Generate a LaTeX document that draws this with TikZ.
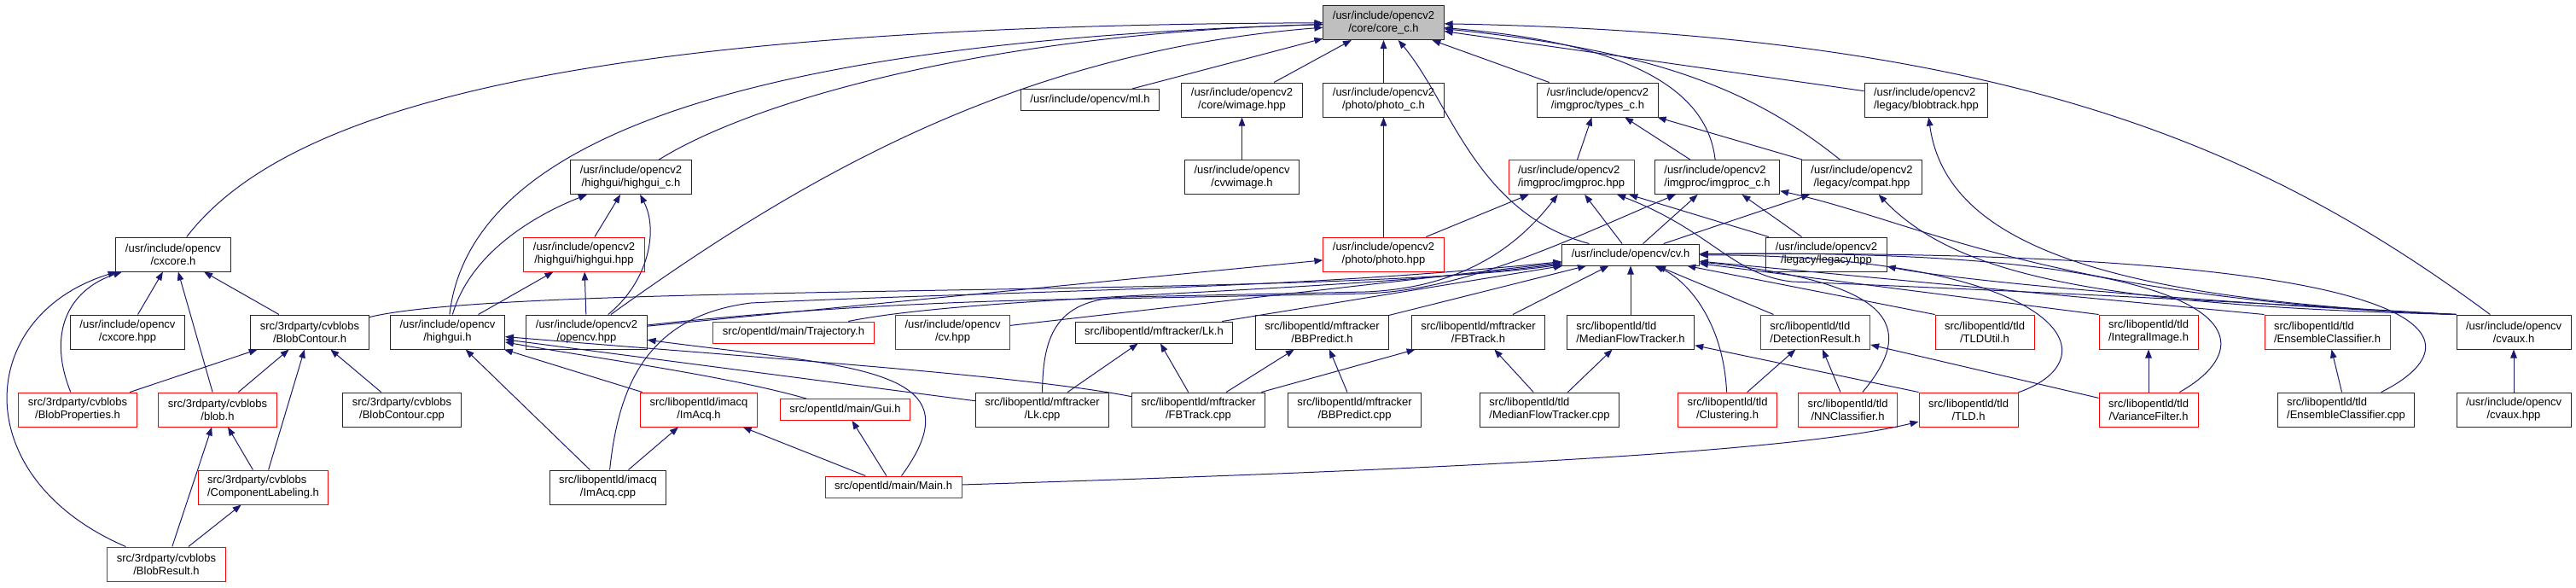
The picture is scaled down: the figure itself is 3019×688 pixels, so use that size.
\documentclass[tikz,border=0pt]{standalone}
\usepackage{fontspec}
\setmainfont{Liberation Sans}
\usetikzlibrary{arrows.meta}
\definecolor{EdgeClr}{rgb}{0.1,0.1,0.44}
\definecolor{TruncClr}{rgb}{1,0,0}
\definecolor{RootClr}{rgb}{0.75,0.75,0.75}
\definecolor{NodeClr}{rgb}{0.15,0.15,0.15}

\begin{document}
\begin{tikzpicture}[x=1pt,y=1pt,
  file/.style={draw=NodeClr,line width=1pt,fill=white,inner xsep=11pt,inner ysep=3pt,
    minimum height=40pt,align=center,font=\fontsize{13}{15}\selectfont},
  one/.style={minimum height=25pt},
  trunc/.style={draw=TruncClr},
  lft/.style={align=left},
  dep/.style={EdgeClr,line width=1pt,-{Triangle[length=10pt,width=7.5pt]}}]
\useasboundingbox (0,0) rectangle (3019,-688);

\node[file,fill=RootClr] (corech) at (1621.5,-26.5) {/usr/include/opencv2\\/core/core\_c.h};

\node[file,one] (mlh) at (1277.5,-117) {/usr/include/opencv/ml.h};
\node[file] (wimage) at (1455.5,-117) {/usr/include/opencv2\\/core/wimage.hpp};
\node[file] (photoch) at (1621.5,-117) {/usr/include/opencv2\\/photo/photo\_c.h};
\node[file] (typesch) at (1872.5,-117) {/usr/include/opencv2\\/imgproc/types\_c.h};
\node[file,lft] (blobtrack) at (2257.5,-117) {/usr/include/opencv2\\/legacy/blobtrack.hpp};

\node[file] (highguich) at (739.5,-207.5) {/usr/include/opencv2\\/highgui/highgui\_c.h};
\node[file] (cvwimage) at (1455.5,-207.5) {/usr/include/opencv\\/cvwimage.h};
\node[file,trunc,lft] (imgproc) at (1841.5,-207.5) {/usr/include/opencv2\\/imgproc/imgproc.hpp};
\node[file,lft] (imgprocch) at (2012.5,-207.5) {/usr/include/opencv2\\/imgproc/imgproc\_c.h};
\node[file] (compat) at (2182,-207.5) {/usr/include/opencv2\\/legacy/compat.hpp};

\node[file] (cxcoreh) at (203,-298) {/usr/include/opencv\\/cxcore.h};
\node[file,trunc] (highguihpp) at (684.5,-298) {/usr/include/opencv2\\/highgui/highgui.hpp};
\node[file,trunc] (photohpp) at (1621.5,-298) {/usr/include/opencv2\\/photo/photo.hpp};
\node[file,one] (cvh) at (1911,-298.5) {/usr/include/opencv/cv.h};
\node[file] (legacy) at (2140.5,-298) {/usr/include/opencv2\\/legacy/legacy.hpp};

\node[file] (cxcorehpp) at (149.5,-389) {/usr/include/opencv\\/cxcore.hpp};
\node[file] (blobcontour) at (363,-389) {src/3rdparty/cvblobs\\/BlobContour.h};
\node[file] (highguih) at (524.5,-389) {/usr/include/opencv\\/highgui.h};
\node[file] (opencvhpp) at (687.5,-389) {/usr/include/opencv2\\/opencv.hpp};
\node[file,one,trunc] (trajectory) at (930,-389.5) {src/opentld/main/Trajectory.h};
\node[file,trunc] (cvhpp) at (1116.5,-389) {/usr/include/opencv\\/cv.hpp};
\node[file,one] (lkh) at (1352.5,-389.5) {src/libopentld/mftracker/Lk.h};
\node[file] (bbpredicth) at (1549.5,-389) {src/libopentld/mftracker\\/BBPredict.h};
\node[file] (fbtrackh) at (1732.5,-389) {src/libopentld/mftracker\\/FBTrack.h};
\node[file,lft] (medianh) at (1911,-389) {src/libopentld/tld\\/MedianFlowTracker.h};
\node[file,trunc,lft] (detectionh) at (2127.5,-389) {src/libopentld/tld\\/DetectionResult.h};
\node[file,trunc] (tldutil) at (2326,-389) {src/libopentld/tld\\/TLDUtil.h};
\node[file,trunc] (integral) at (2518,-389) {src/libopentld/tld\\/IntegralImage.h};
\node[file,trunc,lft] (ensembleh) at (2727.5,-389) {src/libopentld/tld\\/EnsembleClassifier.h};
\node[file] (cvaux) at (2946,-389) {/usr/include/opencv\\/cvaux.h};

\node[file,trunc] (blobprops) at (91,-480) {src/3rdparty/cvblobs\\/BlobProperties.h};
\node[file,trunc] (blobh) at (255,-480) {src/3rdparty/cvblobs\\/blob.h};
\node[file] (blobcontourcpp) at (471,-480) {src/3rdparty/cvblobs\\/BlobContour.cpp};
\node[file,trunc] (imacqh) at (819,-480) {src/libopentld/imacq\\/ImAcq.h};
\node[file,one,trunc] (guih) at (990.5,-480) {src/opentld/main/Gui.h};
\node[file] (lkcpp) at (1221.5,-480) {src/libopentld/mftracker\\/Lk.cpp};
\node[file] (fbtrackcpp) at (1404.5,-480) {src/libopentld/mftracker\\/FBTrack.cpp};
\node[file] (bbpredictcpp) at (1587.5,-480) {src/libopentld/mftracker\\/BBPredict.cpp};
\node[file,lft] (mediancpp) at (1816,-480) {src/libopentld/tld\\/MedianFlowTracker.cpp};
\node[file,trunc] (clustering) at (2024.5,-480) {src/libopentld/tld\\/Clustering.h};
\node[file,trunc] (nnclassifier) at (2165.5,-480) {src/libopentld/tld\\/NNClassifier.h};
\node[file,trunc] (tldh) at (2307,-480) {src/libopentld/tld\\/TLD.h};
\node[file,trunc] (variance) at (2518,-480) {src/libopentld/tld\\/VarianceFilter.h};
\node[file,lft] (ensemblecpp) at (2749.5,-480) {src/libopentld/tld\\/EnsembleClassifier.cpp};
\node[file] (cvauxhpp) at (2946,-480) {/usr/include/opencv\\/cvaux.hpp};

\node[file,trunc,lft] (complabel) at (308.5,-571) {src/3rdparty/cvblobs\\/ComponentLabeling.h};
\node[file] (imacqcpp) at (712.5,-571) {src/libopentld/imacq\\/ImAcq.cpp};
\node[file,one,trunc] (mainh) at (1047,-570.5) {src/opentld/main/Main.h};

\node[file,trunc] (blobresult) at (195,-661) {src/3rdparty/cvblobs\\/BlobResult.h};

\draw[dep] (cxcoreh) .. controls (340,-120) and (700,-30) .. (corech);
\draw[dep] (highguih) .. controls (550,-170) and (850,-50) .. (corech);
\draw[dep] (highguich) .. controls (880,-120) and (1150,-40) .. (corech);
\draw[dep] (opencvhpp) .. controls (950,-200) and (1200,-60) .. (corech);
\draw[dep] (mlh) -- (corech);
\draw[dep] (wimage) -- (corech);
\draw[dep] (photoch) -- (corech);
\draw[dep] (cvh) .. controls (1730,-250) and (1700,-120) .. (corech);
\draw[dep] (typesch) -- (corech);
\draw[dep] (imgprocch) .. controls (2000,-100) and (1900,-50) .. (corech);
\draw[dep] (compat) .. controls (2060,-110) and (1950,-60) .. (corech);
\draw[dep] (blobtrack) -- (corech);
\draw[dep] (cvaux) .. controls (2650,-170) and (2350,-40) .. (corech);

\draw[dep] (cvwimage) -- (wimage);
\draw[dep] (photohpp) -- (photoch);
\draw[dep] (imgproc) -- (typesch);
\draw[dep] (imgprocch) -- (typesch);
\draw[dep] (compat) -- (typesch);
\draw[dep] (highguihpp) -- (highguich);
\draw[dep] (highguih) .. controls (550,-300) and (620,-255) .. (highguich);
\draw[dep] (opencvhpp) .. controls (760,-330) and (772,-270) .. (highguich);
\draw[dep] (photohpp) -- (imgproc);
\draw[dep] (lkcpp) .. controls (1222,-390) and (1240,-350) .. (1320,-348) -- (1600,-342)
  .. controls (1700,-338) and (1770,-300) .. (imgproc);
\draw[dep] (cvh) -- (imgproc);
\draw[dep] (legacy) -- (imgproc);
\draw[dep] (cvaux.north west) .. controls (2600,-352) and (2300,-338) .. (2100,-330)
  .. controls (2030,-322) and (2005,-270) .. (imgproc);
\draw[dep] (opencvhpp) .. controls (900,-365) and (1100,-352) .. (1300,-350) -- (1600,-344)
  .. controls (1720,-340) and (1840,-280) .. (imgprocch);
\draw[dep] (cvh) -- (imgprocch);
\draw[dep] (legacy) -- (imgprocch);
\draw[dep] (cvaux.north west) .. controls (2400,-350) and (2250,-260) .. (imgprocch);
\draw[dep] (cvh) -- (compat);
\draw[dep] (cvaux.north west) .. controls (2450,-358) and (2290,-320) .. (compat);
\draw[dep] (cvaux.north west) .. controls (2600,-356) and (2300,-330) .. (legacy);
\draw[dep] (cvaux.north west) .. controls (2450,-350) and (2280,-280) .. (blobtrack);
\draw[dep] (highguih) -- (highguihpp);
\draw[dep] (opencvhpp) -- (highguihpp);
\draw[dep] (opencvhpp) -- (photohpp);

\draw[dep] (cxcorehpp) -- (cxcoreh);
\draw[dep] (blobcontour) -- (cxcoreh);
\draw[dep] (blobh) -- (cxcoreh);
\draw[dep] (blobprops) .. controls (55,-390) and (80,-340) .. (cxcoreh);
\draw[dep] (blobresult) .. controls (-40,-560) and (-30,-370) .. (cxcoreh);
\draw[dep] (blobcontour) .. controls (600,-330) and (1550,-350) .. (cvh);
\draw[dep] (blobprops) -- (blobcontour);
\draw[dep] (blobh) -- (blobcontour);
\draw[dep] (complabel) -- (blobcontour);
\draw[dep] (blobcontourcpp) -- (blobcontour);
\draw[dep] (blobresult) -- (blobh);
\draw[dep] (complabel) -- (blobh);
\draw[dep] (blobresult) -- (complabel);

\draw[dep] (imacqh) -- (highguih);
\draw[dep] (imacqcpp) -- (highguih);
\draw[dep] (guih) .. controls (850,-440) and (700,-420) .. (highguih);
\draw[dep] (lkcpp) -- (highguih);
\draw[dep] (fbtrackcpp) .. controls (1200,-440) and (900,-420) .. (highguih);
\draw[dep] (mainh) .. controls (1150,-430) and (1000,-430) .. (opencvhpp);
\draw[dep] (imacqcpp) -- (imacqh);
\draw[dep] (mainh) -- (imacqh);
\draw[dep] (mainh) -- (guih);
\draw[dep] (mainh) .. controls (1700,-550) and (2100,-530) .. (tldh);
\draw[dep] (imacqcpp) .. controls (725,-450) and (760,-370) .. (880,-355)
  .. controls (1200,-340) and (1500,-340) .. (cvh);

\draw[dep] (trajectory) .. controls (1150,-345) and (1550,-345) .. (cvh);
\draw[dep] (cvhpp) -- (cvh);
\draw[dep] (lkh) -- (cvh);
\draw[dep] (bbpredicth) -- (cvh);
\draw[dep] (fbtrackh) -- (cvh);
\draw[dep] (medianh) -- (cvh);
\draw[dep] (detectionh) -- (cvh);
\draw[dep] (tldutil.north west) -- (cvh);
\draw[dep] (integral.north west) -- (cvh);
\draw[dep] (ensembleh.north west) -- (cvh);
\draw[dep] (clustering) .. controls (2020,-380) and (1980,-330) .. (cvh);
\draw[dep] (nnclassifier) .. controls (2250,-380) and (2215,-330) .. (cvh);
\draw[dep] (tldh) .. controls (2480,-420) and (2420,-300) .. (cvh);
\draw[dep] (variance) .. controls (2660,-400) and (2640,-290) .. (cvh);
\draw[dep] (ensemblecpp) .. controls (2910,-400) and (2890,-290) .. (cvh);

\draw[dep] (lkcpp) -- (lkh);
\draw[dep] (fbtrackcpp) -- (lkh);
\draw[dep] (fbtrackcpp) -- (bbpredicth);
\draw[dep] (fbtrackcpp) -- (fbtrackh);
\draw[dep] (bbpredictcpp) -- (bbpredicth);
\draw[dep] (mediancpp) -- (fbtrackh);
\draw[dep] (mediancpp) -- (medianh);
\draw[dep] (clustering) -- (detectionh);
\draw[dep] (nnclassifier) -- (detectionh);
\draw[dep] (variance) -- (detectionh);
\draw[dep] (tldh.north west) -- (medianh);
\draw[dep] (variance) -- (integral);
\draw[dep] (ensemblecpp) -- (ensembleh);
\draw[dep] (cvauxhpp) -- (cvaux);
\end{tikzpicture}
\end{document}
